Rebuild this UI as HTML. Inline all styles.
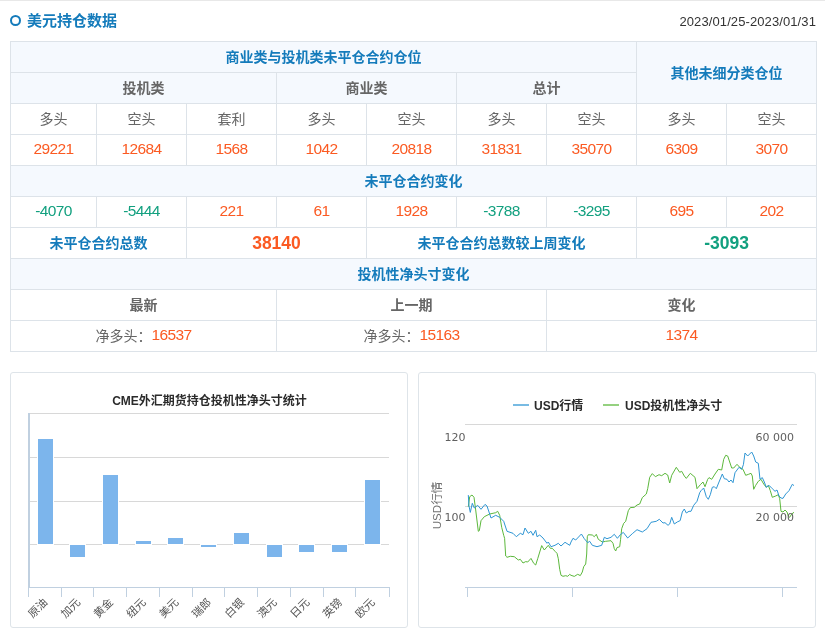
<!DOCTYPE html>
<html lang="zh-CN">
<head>
<meta charset="utf-8">
<title>美元持仓数据</title>
<style>
*{box-sizing:border-box;margin:0;padding:0}
html,body{width:825px;height:631px;background:#fff;overflow:hidden}
body{font-family:"Liberation Sans","Noto Sans CJK SC",sans-serif;color:#666;position:relative}
.topline{position:absolute;left:0;top:0;width:825px;height:1px;background:#e8e8e8}
.hd{position:absolute;left:10px;top:11px;width:806px;height:20px}
.hd .circ{position:absolute;left:-0.25px;top:3.75px;width:11.5px;height:11.5px;border:2px solid #147bbb;border-radius:50%}
.hd .tt{position:absolute;left:17px;top:0;font-size:15px;line-height:20px;font-weight:bold;color:#147bbb;white-space:nowrap}
.hd .dt{position:absolute;right:0;top:1px;font-size:13px;letter-spacing:0.1px;line-height:20px;color:#333;white-space:nowrap}
table{position:absolute;left:10px;top:41px;width:807px;border-collapse:collapse;table-layout:fixed}
td{border:1px solid #dde3e9;height:31px;text-align:center;vertical-align:middle;font-size:14px;line-height:20px;color:#666;padding:0;white-space:nowrap}
td.h{background:#f5f9fe;color:#147bbb;font-weight:bold}
td.g{background:#f5f9fe;color:#666;font-weight:bold}
td.b{color:#147bbb;font-weight:bold}
.n{font-size:15.5px;letter-spacing:-0.6px}
td.n{padding-bottom:2px}
span.n{position:relative;top:-1px}
.r{color:#fb5a22}
.gr{color:#12a07f}
.big{font-size:17.5px;font-weight:bold}
.panel{position:absolute;top:372px;width:398px;height:256px;border:1px solid #dee4e9;border-radius:3px;background:#fff}
svg{position:absolute;left:0;top:0}
svg text{font-family:"Liberation Sans","Noto Sans CJK SC",sans-serif}
svg text.ax{font-family:"DejaVu Sans","Liberation Sans",sans-serif;font-size:11px;fill:#606060}
</style>
</head>
<body>
<div class="topline"></div>
<div class="hd"><div class="circ"></div><div class="tt">美元持仓数据</div><div class="dt">2023/01/25-2023/01/31</div></div>
<table>
<colgroup><col style="width:86px"><col style="width:90px"><col style="width:90px"><col style="width:90px"><col style="width:90px"><col style="width:90px"><col style="width:90px"><col style="width:90px"><col style="width:90px"></colgroup>
<tr><td class="h" colspan="7">商业类与投机类未平仓合约仓位</td><td class="h" colspan="2" rowspan="2">其他未细分类仓位</td></tr>
<tr><td class="g" colspan="3">投机类</td><td class="g" colspan="2">商业类</td><td class="g" colspan="2">总计</td></tr>
<tr><td>多头</td><td>空头</td><td>套利</td><td>多头</td><td>空头</td><td>多头</td><td>空头</td><td>多头</td><td>空头</td></tr>
<tr><td class="n r">29221</td><td class="n r">12684</td><td class="n r">1568</td><td class="n r">1042</td><td class="n r">20818</td><td class="n r">31831</td><td class="n r">35070</td><td class="n r">6309</td><td class="n r">3070</td></tr>
<tr><td class="h" colspan="9">未平仓合约变化</td></tr>
<tr><td class="n gr">-4070</td><td class="n gr">-5444</td><td class="n r">221</td><td class="n r">61</td><td class="n r">1928</td><td class="n gr">-3788</td><td class="n gr">-3295</td><td class="n r">695</td><td class="n r">202</td></tr>
<tr><td class="b" colspan="2">未平仓合约总数</td><td class="big r" colspan="2">38140</td><td class="b" colspan="3">未平仓合约总数较上周变化</td><td class="big gr" colspan="2">-3093</td></tr>
<tr><td class="h" colspan="9">投机性净头寸变化</td></tr>
<tr><td class="g" style="background:#fff" colspan="3">最新</td><td class="g" style="background:#fff" colspan="3">上一期</td><td class="g" style="background:#fff" colspan="3">变化</td></tr>
<tr><td colspan="3">净多头：<span class="n r">16537</span></td><td colspan="3">净多头：<span class="n r">15163</span></td><td class="n r" colspan="3">1374</td></tr>
</table>
<div class="panel" style="left:10px" id="p1"></div>
<div class="panel" style="left:418px" id="p2"></div>
<!--SVG-->
<svg width="825" height="631" viewBox="0 0 825 631">
<g shape-rendering="crispEdges">
<rect x="30" y="413" width="359" height="1" fill="#D8D8D8"/>
<rect x="30" y="457" width="359" height="1" fill="#D8D8D8"/>
<rect x="30" y="501" width="359" height="1" fill="#D8D8D8"/>
<rect x="30" y="544" width="359" height="1" fill="#D8D8D8"/>
<rect x="37" y="438" width="17" height="107" fill="#fff"/>
<rect x="38" y="439" width="15" height="105" fill="#7cb5ec"/>
<rect x="69" y="544" width="17" height="14" fill="#fff"/>
<rect x="70" y="545" width="15" height="12" fill="#7cb5ec"/>
<rect x="102" y="474" width="17" height="71" fill="#fff"/>
<rect x="103" y="475" width="15" height="69" fill="#7cb5ec"/>
<rect x="135" y="540" width="17" height="5" fill="#fff"/>
<rect x="136" y="541" width="15" height="3" fill="#7cb5ec"/>
<rect x="167" y="537" width="17" height="8" fill="#fff"/>
<rect x="168" y="538" width="15" height="6" fill="#7cb5ec"/>
<rect x="200" y="544" width="17" height="4" fill="#fff"/>
<rect x="201" y="545" width="15" height="2" fill="#7cb5ec"/>
<rect x="233" y="532" width="17" height="13" fill="#fff"/>
<rect x="234" y="533" width="15" height="11" fill="#7cb5ec"/>
<rect x="266" y="544" width="17" height="14" fill="#fff"/>
<rect x="267" y="545" width="15" height="12" fill="#7cb5ec"/>
<rect x="298" y="544" width="17" height="9" fill="#fff"/>
<rect x="299" y="545" width="15" height="7" fill="#7cb5ec"/>
<rect x="331" y="544" width="17" height="9" fill="#fff"/>
<rect x="332" y="545" width="15" height="7" fill="#7cb5ec"/>
<rect x="364" y="479" width="17" height="66" fill="#fff"/>
<rect x="365" y="480" width="15" height="64" fill="#7cb5ec"/>
<rect x="28" y="413" width="2" height="175" fill="#C0D0E0"/>
<rect x="28" y="587" width="362" height="1" fill="#C0D0E0"/>
<rect x="28" y="588" width="1" height="9" fill="#C0D0E0"/>
<rect x="61" y="588" width="1" height="9" fill="#C0D0E0"/>
<rect x="93" y="588" width="1" height="9" fill="#C0D0E0"/>
<rect x="126" y="588" width="1" height="9" fill="#C0D0E0"/>
<rect x="159" y="588" width="1" height="9" fill="#C0D0E0"/>
<rect x="192" y="588" width="1" height="9" fill="#C0D0E0"/>
<rect x="224" y="588" width="1" height="9" fill="#C0D0E0"/>
<rect x="257" y="588" width="1" height="9" fill="#C0D0E0"/>
<rect x="290" y="588" width="1" height="9" fill="#C0D0E0"/>
<rect x="323" y="588" width="1" height="9" fill="#C0D0E0"/>
<rect x="355" y="588" width="1" height="9" fill="#C0D0E0"/>
<rect x="389" y="588" width="1" height="9" fill="#C0D0E0"/>
</g>
<text x="209.5" y="405" text-anchor="middle" font-size="12" font-weight="bold" fill="#2b2b2b">CME外汇期货持仓投机性净头寸统计</text>
<text x="48.4" y="603" text-anchor="end" font-size="11" fill="#555" transform="rotate(-45 48.4 603)">原油</text>
<text x="81.1" y="603" text-anchor="end" font-size="11" fill="#555" transform="rotate(-45 81.1 603)">加元</text>
<text x="113.8" y="603" text-anchor="end" font-size="11" fill="#555" transform="rotate(-45 113.8 603)">黄金</text>
<text x="146.5" y="603" text-anchor="end" font-size="11" fill="#555" transform="rotate(-45 146.5 603)">纽元</text>
<text x="179.3" y="603" text-anchor="end" font-size="11" fill="#555" transform="rotate(-45 179.3 603)">美元</text>
<text x="212.0" y="603" text-anchor="end" font-size="11" fill="#555" transform="rotate(-45 212.0 603)">瑞郎</text>
<text x="244.7" y="603" text-anchor="end" font-size="11" fill="#555" transform="rotate(-45 244.7 603)">白银</text>
<text x="277.5" y="603" text-anchor="end" font-size="11" fill="#555" transform="rotate(-45 277.5 603)">澳元</text>
<text x="310.2" y="603" text-anchor="end" font-size="11" fill="#555" transform="rotate(-45 310.2 603)">日元</text>
<text x="342.9" y="603" text-anchor="end" font-size="11" fill="#555" transform="rotate(-45 342.9 603)">英镑</text>
<text x="375.6" y="603" text-anchor="end" font-size="11" fill="#555" transform="rotate(-45 375.6 603)">欧元</text>
<path d="M465 424.5 H797" stroke="#D8D8D8" stroke-width="1" fill="none"/>
<path d="M465 506.5 H797" stroke="#D8D8D8" stroke-width="1" fill="none"/>
<path d="M465 587.5 H797" stroke="#C0D0E0" stroke-width="1" fill="none"/>
<path d="M467.5 587.5 V597" stroke="#C0D0E0" stroke-width="1" fill="none"/>
<path d="M572.5 587.5 V597" stroke="#C0D0E0" stroke-width="1" fill="none"/>
<path d="M677.5 587.5 V597" stroke="#C0D0E0" stroke-width="1" fill="none"/>
<path d="M782.5 587.5 V597" stroke="#C0D0E0" stroke-width="1" fill="none"/>
<path d="M468.3 506.7 L469.7 496.7 L472.0 495.0 L474.0 497.3 L475.7 510.0 L478.3 531.3 L479.3 530.7 L481.0 520.7 L484.3 516.7 L489.7 514.0 L495.7 512.7 L497.7 511.3 L499.7 515.3 L501.7 527.3 L503.7 535.3 L504.6 538.3 L505.7 556.0 L507.0 557.3 L510.3 556.3 L514.3 556.7 L518.3 560.0 L520.3 559.3 L523.0 563.0 L525.7 561.6 L527.7 562.0 L531.0 558.4 L533.7 563.3 L535.7 565.0 L537.7 558.7 L541.7 545.6 L544.3 550.0 L548.3 545.3 L550.3 548.3 L552.3 548.3 L555.0 551.3 L557.0 553.3 L558.3 558.7 L559.7 569.3 L561.0 575.3 L563.0 576.3 L565.7 575.7 L567.7 576.3 L569.7 574.4 L571.0 575.3 L574.3 576.4 L577.7 574.3 L580.3 575.6 L582.3 572.0 L583.7 566.7 L585.7 564.0 L586.7 554.0 L587.3 536.7 L588.3 534.7 L592.3 535.0 L594.3 536.7 L596.3 534.3 L598.3 539.3 L602.3 542.0 L605.7 541.3 L611.0 540.7 L613.0 543.3 L614.3 548.7 L615.7 551.0 L617.0 547.6 L619.7 546.7 L620.6 539.3 L621.7 528.7 L623.7 523.3 L625.7 521.3 L626.5 518.0 L628.3 510.7 L630.3 507.6 L634.3 507.3 L637.0 505.0 L639.7 504.0 L642.3 497.6 L646.3 494.0 L647.7 488.7 L649.7 477.3 L652.3 473.6 L655.4 476.7 L659.0 474.7 L661.7 475.7 L665.0 473.3 L667.7 475.0 L669.7 483.0 L671.7 475.3 L676.3 467.3 L679.7 472.3 L681.7 471.3 L684.3 476.0 L686.3 478.4 L690.3 473.3 L695.0 477.3 L697.0 488.7 L700.3 484.7 L703.0 482.0 L705.0 486.7 L707.7 479.3 L709.0 477.6 L711.7 479.3 L715.0 474.0 L718.3 469.3 L721.7 470.0 L723.7 459.3 L725.7 455.3 L727.7 456.0 L729.7 462.0 L731.7 468.0 L733.7 468.0 L737.0 464.3 L739.7 467.3 L743.0 469.3 L745.7 475.3 L748.3 474.4 L751.0 473.3 L752.3 476.0 L753.7 489.3 L755.7 485.3 L758.3 481.3 L761.0 479.3 L763.7 484.0 L766.3 487.3 L768.3 485.3 L770.3 490.7 L772.3 497.3 L775.7 496.0 L778.3 494.7 L779.7 498.7 L781.0 511.3 L783.0 512.0 L785.0 510.0 L787.0 512.0 L788.3 516.0 L789.7 517.3 L791.7 514.0 L794.0 512.3" stroke="#5cb83c" stroke-width="1" fill="none" stroke-linejoin="round"/>
<path d="M468.3 495.1 L469.0 506.0 L470.3 512.4 L472.3 503.3 L474.3 508.0 L477.7 505.3 L481.0 509.3 L485.0 504.4 L487.0 506.0 L491.0 518.0 L495.7 515.3 L499.7 517.3 L503.7 521.3 L507.0 531.3 L513.0 533.3 L516.3 536.7 L520.3 533.3 L523.0 534.7 L525.0 528.0 L528.3 533.3 L531.0 531.3 L533.0 535.3 L535.7 530.3 L537.0 536.7 L539.7 535.0 L543.0 538.0 L547.0 543.3 L548.3 542.0 L551.0 546.7 L555.0 545.3 L558.3 543.3 L561.0 546.0 L565.0 542.3 L569.7 545.3 L571.0 542.0 L573.0 538.3 L575.7 540.0 L581.4 534.0 L584.3 538.7 L587.7 542.7 L589.7 541.3 L592.3 545.3 L597.0 546.7 L601.7 545.3 L604.3 537.3 L607.0 538.7 L611.0 537.3 L614.3 534.3 L617.4 538.3 L620.3 534.7 L623.3 532.4 L627.7 538.0 L632.3 533.7 L637.0 529.7 L642.3 532.0 L647.0 528.7 L651.0 522.3 L656.3 521.3 L659.3 519.3 L663.0 523.0 L665.0 522.7 L668.0 525.3 L669.7 524.0 L671.7 517.3 L674.3 524.0 L677.7 521.7 L679.7 521.0 L680.3 520.0 L682.3 512.0 L684.3 509.0 L686.3 513.0 L689.0 511.3 L691.0 511.3 L693.7 505.3 L697.0 501.3 L699.7 492.7 L701.0 490.7 L703.7 488.0 L706.3 496.7 L708.3 499.3 L710.3 494.7 L712.3 487.3 L714.3 486.7 L716.3 488.7 L719.0 482.0 L722.3 474.0 L724.3 478.7 L727.0 479.3 L729.0 482.0 L731.0 480.0 L733.0 482.7 L735.0 472.7 L739.0 467.3 L741.7 469.3 L743.4 464.7 L745.0 453.0 L747.7 456.0 L751.7 452.0 L753.7 456.0 L755.7 462.0 L758.3 463.3 L760.0 479.3 L762.3 477.6 L764.3 482.0 L766.3 487.3 L769.0 485.3 L772.3 488.7 L775.0 491.3 L777.0 490.0 L779.0 496.0 L781.0 498.0 L783.0 498.4 L785.7 494.0 L789.0 490.7 L792.3 484.3 L794.0 485.6" stroke="#2f96d4" stroke-width="1" fill="none" stroke-linejoin="round"/>
<path d="M513 405 H529" stroke="#2f96d4" stroke-width="1.3" fill="none"/>
<path d="M603 405 H619" stroke="#5cb83c" stroke-width="1.3" fill="none"/>
<text x="534" y="409.5" font-size="12" font-weight="bold" fill="#2b2b2b">USD行情</text>
<text x="625" y="409.5" font-size="12" font-weight="bold" fill="#2b2b2b">USD投机性净头寸</text>
<text x="465.5" y="441" text-anchor="end" class="ax">120</text>
<text x="465.5" y="521.2" text-anchor="end" class="ax">100</text>
<text x="794" y="441" text-anchor="end" class="ax">60 000</text>
<text x="794" y="521.2" text-anchor="end" class="ax">20 000</text>
<text x="441" y="505.5" text-anchor="middle" font-size="11.6" fill="#707070" transform="rotate(-90 441 505.5)">USD行情</text>
</svg>
<!--/SVG-->
</body>
</html>
